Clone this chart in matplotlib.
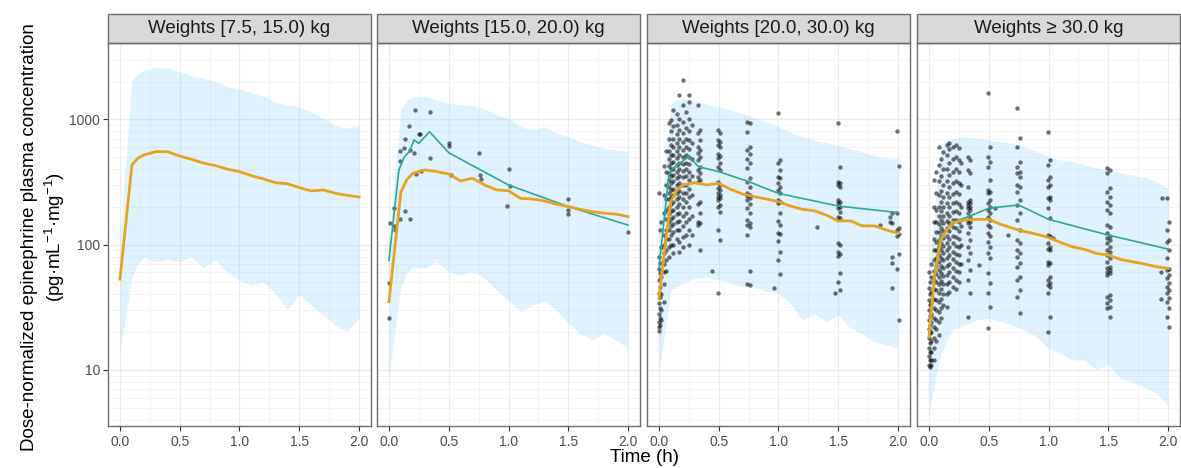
import numpy as np
import matplotlib
matplotlib.use('Agg')
import matplotlib.pyplot as plt
from matplotlib.patches import Rectangle
from matplotlib.ticker import FixedLocator, LogLocator, NullFormatter

# font setup (Arial-like)
plt.rcParams['font.family'] = ['Liberation Sans', 'DejaVu Sans']
plt.rcParams['mathtext.fontset'] = 'custom'
plt.rcParams['mathtext.rm'] = 'Liberation Sans'
plt.rcParams['mathtext.it'] = 'Liberation Sans:italic'

# ---- data ----
strip_titles = ['Weights [7.5, 15.0) kg', 'Weights [15.0, 20.0) kg',
                'Weights [20.0, 30.0) kg', 'Weights \u2265 30.0 kg']

# simulated prediction grid (h)
pred_time = [0.0, 0.05, 0.1, 0.15, 0.2, 0.3, 0.4, 0.5, 0.6, 0.7, 0.8, 0.9,
             1.0, 1.1, 1.2, 1.3, 1.4, 1.5, 1.6, 1.7, 1.8, 1.9, 2.0]

# median prediction (orange) and 90% interval (ribbon)
p1_median = [53, 150, 432, 489, 519, 552, 550, 509, 479, 446, 427, 399, 382, 355, 334, 312, 306, 285, 268, 273, 257, 247, 240]
p1_upper = [110, 480, 2060, 2300, 2480, 2590, 2560, 2400, 2220, 2125, 2000, 1820, 1740, 1630, 1520, 1380, 1300, 1260, 1150, 1020, 885, 850, 885]
p1_lower = [13.5, 27, 55, 70, 80, 73, 76, 73, 80, 65, 76, 59, 52, 47.5, 50.5, 40.7, 30, 39.5, 32.9, 27.4, 22.8, 20.1, 25.7]

p2_median = [35, 96, 264, 330, 371, 394, 382, 366, 322, 338, 299, 273, 269, 234, 231, 223, 210, 201, 191, 183, 178, 175, 167]
p2_upper = [100, 380, 1190, 1430, 1520, 1520, 1430, 1340, 1300, 1280, 1220, 1080, 1020, 874, 822, 874, 773, 727, 664, 624, 587, 569, 552]
p2_lower = [8.8, 20, 46, 59, 66.5, 64.5, 73, 60.6, 57, 60.6, 53.7, 43.3, 36, 29, 32.9, 35, 30, 23.5, 19.5, 17.3, 19.5, 17.3, 14.8]

p3_median = [37, 96, 220, 273, 299, 312, 299, 308, 276, 253, 241, 231, 220, 203, 191, 186, 172, 154, 155, 141, 141, 131, 123]
p3_upper = [130, 420, 1350, 1430, 1470, 1420, 1330, 1260, 1180, 1110, 1030, 950, 873, 790, 720, 680, 650, 620, 580, 548, 510, 495, 489]
p3_lower = [9.5, 20, 43, 46, 49, 53.7, 55, 52, 49, 46, 46, 42, 40.7, 33.9, 24.9, 28.2, 24.2, 27.4, 21.4, 19.5, 16.7, 15.8, 14.8]

p4_median = [18.4, 59, 109, 131, 150, 157, 159, 159, 145, 135, 127, 121, 114, 104, 96, 91.6, 85, 82.5, 76, 73, 70, 66.6, 64.5]
p4_upper = [60, 200, 605, 684, 705, 728, 705, 684, 663, 643, 605, 552, 504, 473, 459, 432, 410, 390, 375, 355, 345, 320, 281]
p4_lower = [4.5, 8, 13.5, 17.3, 20.7, 22.8, 25, 25.7, 24.2, 22.8, 20.7, 18.4, 14.8, 13.5, 12, 12, 10, 11.2, 8.5, 8, 7.3, 6.5, 5.2]

# observed median (teal)
p2_obs_time = [0, 0.083, 0.13, 0.17, 0.21, 0.25, 0.34, 0.5, 1.0, 1.5, 2.0]
p2_obs_median = [75, 394, 504, 551, 684, 643, 796, 541, 299, 201, 143]
p3_obs_time = [0, 0.083, 0.117, 0.25, 0.33, 0.5, 0.75, 1.0, 1.5, 2.0]
p3_obs_median = [65, 359, 406, 503, 419, 382, 318, 256, 203, 180]
p4_obs_time = [0, 0.044, 0.086, 0.17, 0.25, 0.33, 0.5, 0.75, 1.0, 1.5, 2.0]
p4_obs_median = [20, 52, 109, 139, 157, 167, 195, 207, 159, 119, 92]

# observations, panel 2
p2_time = [0.215, 0.34, 0.167, 0.138, 0.257, 0.25, 0.089, 0.128, 0.173, 0.206, 0.089, 0.346, 0.503, 0.503,
           0.754, 1.005, 0.223, 0.271, 0.52, 0.76, 0.774, 1.011, 0.989, 0.044, 0.134, 0.173, 0.089, 0.005,
           0.044, 0.05, 0.0, 0.0, 1.5, 1.5, 1.5, 2.0]
p2_conc = [1187, 1150, 885, 692, 763, 763, 563, 593, 569, 535, 468, 489, 643, 610,
           535, 401, 366, 386, 359, 359, 332, 294, 204, 195, 186, 161, 160, 149,
           141, 131, 49, 25.7, 230, 189, 175, 125]

# observations, panel 3 (sampling time -> concentrations)
p3_col_time = [0.0, 0.01, 0.02, 0.04, 0.06, 0.083, 0.10, 0.12, 0.15, 0.17, 0.2, 0.23, 0.25, 0.28,
               0.33, 0.345, 0.44, 0.49, 0.51, 0.74, 0.765, 0.96, 0.995, 1.015, 1.32, 1.47,
               1.495, 1.515, 1.85, 1.93, 1.95, 1.995, 2.01]
p3_col_conc = [
    [260, 80, 64, 52, 41, 34, 28, 24, 22, 20.5],
    [131, 71, 59, 46, 38, 31, 26, 22.8],
    [150, 95, 55, 40, 30, 25],
    [420, 250, 180, 120, 100, 85, 70, 60, 48, 35],
    [560, 380, 300, 230, 190, 160, 130, 110, 90, 75, 62],
    [930, 700, 560, 480, 420, 370, 330, 290, 260, 230, 200, 175, 150, 130, 110, 95, 80],
    [990, 800, 620, 520, 450, 400, 350, 310, 275, 240, 210, 185, 160, 140, 120, 100],
    [1190, 880, 700, 600, 520, 460, 400, 360, 320, 280, 250, 220, 190, 165, 145, 125, 100, 85],
    [1100, 900, 760, 650, 560, 490, 430, 380, 340, 300, 260, 230, 200, 175, 150, 130, 110],
    [1560, 1000, 820, 700, 600, 520, 450, 400, 350, 310, 270, 240, 210, 180, 155, 130, 105, 88],
    [2060, 1300, 950, 780, 660, 570, 500, 440, 390, 345, 300, 260, 230, 200, 170, 140, 115, 95],
    [1150, 850, 700, 600, 520, 450, 400, 350, 300, 260, 220, 180, 150, 120],
    [1560, 1380, 1000, 800, 680, 580, 500, 440, 380, 330, 280, 240, 200, 160, 130, 100],
    [900, 650, 480, 350, 250, 170, 120],
    [1301, 773, 605, 535, 473, 394, 348, 318, 211, 152, 143],
    [822, 684, 569, 503, 419, 371, 328, 220, 178, 148, 90],
    [62],
    [822, 684, 624, 529, 489, 419, 318, 281, 260, 241, 227, 201, 131, 40.7],
    [773, 663, 605, 509, 446, 394, 299, 273, 249, 234, 207, 183, 109],
    [958, 797, 569, 480, 407, 318, 256, 245, 227, 195, 157, 143, 119, 48.4],
    [940, 598, 529, 446, 338, 290, 250, 234, 211, 178, 148, 139, 61.8, 47.5],
    [44.8],
    [1117, 451, 348, 308, 273, 227, 214, 155, 123, 107, 75.5],
    [473, 394, 338, 290, 257, 220, 178, 143, 122, 88, 58],
    [139],
    [40.8],
    [929, 318, 299, 227, 214, 195, 167, 102, 87.8, 81, 50.6],
    [419, 308, 290, 220, 201, 183, 162, 99, 84, 59, 43.4],
    [142],
    [150, 165],
    [178, 148, 80, 71.7, 44.8],
    [811, 178, 131, 116, 63.5],
    [424, 135, 122, 84, 25],
]

# observations, panel 4
p4_col_time = [0.0, 0.01, 0.02, 0.04, 0.06, 0.083, 0.10, 0.12, 0.15, 0.17, 0.2, 0.23, 0.25, 0.27,
               0.33, 0.345, 0.42, 0.49, 0.51, 0.556, 0.66, 0.74, 0.765, 0.995, 1.015, 1.04,
               1.49, 1.515, 1.94, 1.95, 1.995, 2.01]
p4_col_conc = [
    [60, 45, 36, 30, 25, 21, 18, 15, 13, 11],
    [50, 40, 33, 27, 23, 19.5, 16.5, 14, 12, 10.5],
    [70, 55, 42, 34, 28, 24, 20, 17, 14, 12, 11],
    [330, 200, 150, 110, 90, 75, 62, 52, 44, 37, 31, 26, 22, 18, 15, 12],
    [380, 260, 190, 150, 125, 105, 90, 78, 68, 58, 50, 43, 36, 30, 25, 21, 17],
    [600, 430, 320, 250, 200, 170, 145, 125, 108, 95, 83, 72, 63, 55, 48, 41, 35, 29, 24, 19],
    [480, 350, 270, 220, 185, 158, 135, 118, 103, 90, 78, 68, 59, 51, 44, 37, 31, 26],
    [550, 400, 300, 240, 200, 170, 148, 128, 112, 98, 86, 75, 65, 56, 48, 40, 33],
    [620, 520, 400, 320, 260, 215, 180, 155, 135, 118, 103, 90, 78, 67, 57, 48, 40, 32],
    [650, 580, 450, 360, 290, 240, 200, 170, 148, 128, 110, 95, 82, 70, 60, 50, 42],
    [600, 480, 380, 310, 255, 215, 182, 158, 137, 118, 102, 88, 76, 65, 55, 46],
    [620, 500, 400, 320, 265, 220, 185, 158, 135, 115, 98, 84, 72, 62, 52, 44],
    [590, 470, 380, 310, 255, 212, 178, 150, 128, 110, 95, 82, 70, 60, 50],
    [450, 300, 200, 140, 100, 70],
    [503, 394, 290, 220, 207, 195, 178, 157, 148, 123, 96, 75, 52, 26.5],
    [473, 371, 227, 213, 201, 189, 167, 152, 139, 109, 85, 62.7, 40.7],
    [68.8],
    [1614, 503, 419, 273, 256, 213, 189, 167, 143, 123, 105, 85, 59, 40.7, 21.4],
    [605, 459, 328, 264, 227, 201, 178, 157, 139, 116, 96, 77.6, 49, 31.9],
    [195],
    [119],
    [1224, 605, 419, 371, 299, 264, 207, 157, 109, 90.5, 80, 66.5, 52, 38.4],
    [705, 459, 382, 348, 290, 227, 178, 131, 102, 85, 70.8, 55, 43.4, 28.2],
    [796, 432, 328, 290, 234, 195, 119, 102, 93, 73.1, 68.8, 52.1, 47.6, 40.9, 20.2],
    [473, 348, 299, 241, 227, 162, 116, 96, 90.5, 71, 55.5, 49.1, 46.2, 26.6],
    [112],
    [406, 371, 264, 220, 189, 143, 123, 112, 102, 90.5, 82.6, 73.1, 64.7, 60.8, 57.2, 38.4, 34, 31],
    [394, 281, 241, 207, 178, 139, 116, 109, 96, 87.8, 77.8, 66.7, 62.7, 59, 39.6, 36.1, 31.9, 26.6],
    [60, 37],
    [234],
    [234, 131, 105, 77.8, 62.7, 53.8, 46.2, 40.9, 35, 26.6],
    [152, 109, 90.5, 63.9, 57.2, 49.1, 43.4, 37.3, 31, 22.1],
]


def flatten_cols(col_time, col_conc):
    t, c = [], []
    for tt, cc in zip(col_time, col_conc):
        t += [tt] * len(cc)
        c += list(cc)
    return t, c


p3_time, p3_conc = flatten_cols(p3_col_time, p3_col_conc)
p4_time, p4_conc = flatten_cols(p4_col_time, p4_col_conc)

panels = [
    (p1_median, p1_lower, p1_upper, None, None, None, None),
    (p2_median, p2_lower, p2_upper, p2_time, p2_conc, p2_obs_time, p2_obs_median),
    (p3_median, p3_lower, p3_upper, p3_time, p3_conc, p3_obs_time, p3_obs_median),
    (p4_median, p4_lower, p4_upper, p4_time, p4_conc, p4_obs_time, p4_obs_median),
]

# ---- layout (pixels) ----
W, H = 1181, 468
fig = plt.figure(figsize=(W / 100, H / 100), dpi=100)
panel_left = [108, 377, 647, 917]
panel_w = 263
panel_top, panel_bot = 43, 426
strip_h = 29
border = '#6E6E6E'

for i, (med, lo, hi, pt, pc, ot, om) in enumerate(panels):
    ax = fig.add_axes([panel_left[i] / W, 1 - panel_bot / H,
                       panel_w / W, (panel_bot - panel_top) / H])
    ax.set_yscale('log')
    ax.fill_between(pred_time, lo, hi, color='#87CEFA', alpha=0.25, lw=0, zorder=1)
    if pt is not None:
        ax.scatter(pt, pc, s=10, color='black', alpha=0.55, lw=0, zorder=2)
        ax.plot(ot, om, color='#2BA896', lw=1.2, zorder=3)
    ax.plot(pred_time, med, color='#E5A41F', lw=2.0, zorder=4)

    ax.set_xlim(-0.1, 2.1)
    ax.set_ylim(3.56, 4065)
    ax.xaxis.set_major_locator(FixedLocator([0, 0.5, 1.0, 1.5, 2.0]))
    ax.xaxis.set_minor_locator(FixedLocator([0.25, 0.75, 1.25, 1.75]))
    ax.set_xticklabels(['0.0', '0.5', '1.0', '1.5', '2.0'])
    ax.yaxis.set_major_locator(FixedLocator([10, 100, 1000]))
    ax.yaxis.set_minor_locator(LogLocator(base=10, subs=np.arange(2, 10)))
    ax.yaxis.set_minor_formatter(NullFormatter())
    ax.set_yticklabels(['10', '100', '1000'])

    ax.set_axisbelow(True)
    ax.grid(which='major', color='#EBEBEB', lw=0.9)
    ax.grid(which='minor', color='#F0F0F0', lw=0.5)
    ax.tick_params(which='minor', length=0)
    ax.tick_params(which='major', length=3.5, width=0.8, color='#333333',
                   labelcolor='#4D4D4D', labelsize=10, pad=3)
    ax.tick_params(axis='y', pad=2)
    if i > 0:
        ax.tick_params(axis='y', which='both', left=False, labelleft=False)
    for sp in ax.spines.values():
        sp.set_color(border)
        sp.set_linewidth(1.0)

    # facet strip
    sh = strip_h / (panel_bot - panel_top)
    ax.add_patch(Rectangle((0, 1), 1, sh, transform=ax.transAxes, clip_on=False,
                           facecolor='#D9D9D9', edgecolor=border, lw=1.0))
    ax.text(0.5, 1 + sh / 2, strip_titles[i], transform=ax.transAxes,
            ha='center', va='center', fontsize=13.5, color='#1A1A1A')

# axis titles
fig.text(30 / W, 0.494, 'Dose-normalized epinephrine plasma concentration',
         rotation=90, ha='center', va='center', fontsize=13.5)
fig.text(55 / W, 0.494, '(pg\u00b7mL$^{-1}$\u00b7mg$^{-1}$)',
         rotation=90, ha='center', va='center', fontsize=13.5)
fig.text(644 / W, 1 - 457 / H, 'Time (h)', ha='center', va='center', fontsize=13.5)

fig.savefig('out.png', dpi=100)
